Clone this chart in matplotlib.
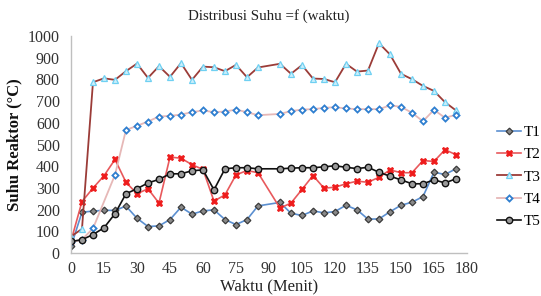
import numpy as np
import matplotlib
matplotlib.use("Agg")
import matplotlib.pyplot as plt

nan = np.nan
waktu = list(range(0, 180, 5))

T1 = [30, 188, 193, 197, 196, 216, 160, 122, 125, 154, 211, 179, 194, 199, 154, 131, 154, 217,
      nan, 233, 183, 173, 194, 185, 191, 220, 199, 156, 157, 190, 220, 234, 260, 372, 362, 388]
T2 = [55, 237, 299, 356, 431, 326, 273, 296, 230, 442, 437, 407, 385, 239, 268, 360, 380, 370,
      nan, 207, 230, 293, 357, 299, 303, 319, 331, 326, 349, 383, 370, 370, 426, 422, 476, 453]
T3 = [76, 111, 787, 805, 798, 838, 873, 807, 861, 812, 875, 798, 859, 856, 838, 867, 810, 855,
      nan, 872, 826, 866, 804, 802, 787, 872, 836, 841, 967, 915, 826, 801, 770, 747, 695, 657]
T4 = [50, 62, 113, nan, 360, 567, 586, 606, 629, 632, 638, 649, 657, 649, 652, 661, 649, 635,
      nan, 641, 654, 661, 663, 669, 672, 666, 663, 663, 663, 680, 674, 646, 607, 660, 623, 637]
T5 = [53, 61, 85, 116, 181, 273, 296, 323, 339, 365, 365, 379, 383, 291, 388, 393, 393, 388,
      nan, 388, 391, 393, 393, 397, 402, 395, 389, 395, 372, 354, 337, 319, 319, 337, 323, 342]

series = ["T1", "T2", "T3", "T4", "T5"]
values = [T1, T2, T3, T4, T5]

styles = {
    "T1": dict(color="#5b8fd0", lw=1.2, marker="D", ms=3.4, mfc="#8a8a8a", mec="#3a3a3a", mew=0.9),
    "T2": dict(color="#e8595c", lw=1.2, marker="X", ms=4.8, mfc="#ee1c1c", mec="#ee1c1c", mew=0.6),
    "T3": dict(color="#9b3c38", lw=1.3, marker="^", ms=4.4, mfc="#cdeffb", mec="#6fd0f2", mew=0.9),
    "T4": dict(color="#e6b8b7", lw=1.3, marker="D", ms=3.1, mfc="#ffffff", mec="#2f7fd0", mew=1.3),
    "T5": dict(color="#111111", lw=1.2, marker="o", ms=4.6, mfc="#9a9a9a", mec="#111111", mew=1.0),
}

plt.rcParams["font.family"] = ["Liberation Serif", "DejaVu Serif"]

fig = plt.figure(figsize=(5.41, 2.96), dpi=100)
ax = fig.add_axes([0.1312, 0.1453, 0.732, 0.733])

x_arr = np.array(waktu, dtype=float)
handles = []
for name, vals in zip(series, values):
    v = np.array(vals, dtype=float)
    m = ~np.isnan(v)
    h, = ax.plot(x_arr[m], v[m], label=name, **styles[name])
    handles.append(h)

ax.set_xlim(0, 180)
ax.set_ylim(0, 1000)
ax.set_xticks(np.arange(0, 181, 15))
ax.set_yticks(np.arange(0, 1001, 100))
ax.tick_params(axis="x", length=0, labelsize=11.5, colors="#333333", pad=6)
ax.tick_params(axis="y", length=0, labelsize=11.5, colors="#333333", pad=8)
for s in ["top", "right"]:
    ax.spines[s].set_visible(False)
for s in ["left", "bottom"]:
    ax.spines[s].set_color("#bfbfbf")
    ax.spines[s].set_linewidth(1.0)

ax.set_title("Distribusi Suhu =f (waktu)", fontsize=10.8, color="#222222", pad=12)
ax.set_xlabel("Waktu (Menit)", fontsize=12, color="#222222", labelpad=1)
ax.set_ylabel("Suhu Reaktor (\u00b0C)", fontsize=12, fontweight="bold", color="#111111", labelpad=4)

fig.legend(handles=handles, loc="upper left", bbox_to_anchor=(0.918, 0.576),
           frameon=False, fontsize=11, handlelength=1.6, handletextpad=0.15,
           labelspacing=0.56, borderaxespad=0, borderpad=0)

fig.savefig("out.png", dpi=100)
